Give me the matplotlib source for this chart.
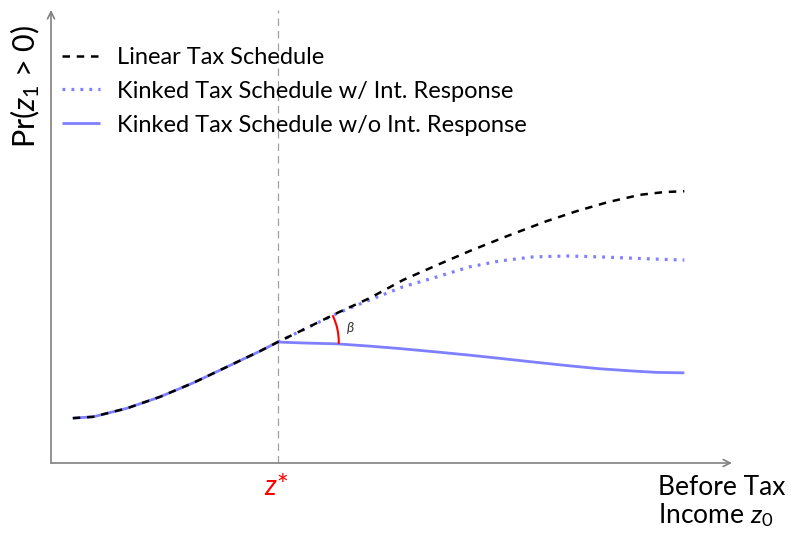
import numpy as np
import matplotlib.pyplot as plt
from matplotlib.patches import Arc
from matplotlib.transforms import ScaledTranslation

plt.rcParams['font.family'] = ['Lato', 'DejaVu Sans']
plt.rcParams['mathtext.fontset'] = 'custom'
plt.rcParams['mathtext.rm'] = 'Lato'
plt.rcParams['mathtext.it'] = 'Lato:italic'
plt.rcParams['mathtext.bf'] = 'Lato:bold'

# curva comun antes del kink (ingreso antes de impuestos, probabilidad)
x_pre = [3.2, 6.2, 11.2, 16.0, 20.9, 25.8, 30.7, 33.3]
y_pre = [9.9, 10.2, 12.1, 14.6, 17.7, 21.2, 24.7, 26.7]

# despues del kink
x_lin = [33.3, 37.0, 42.0, 46.8, 51.7, 56.7, 61.5, 67.0, 72.8, 77.2, 81.8, 86.5, 90.0, 93.0]
y_lin = [26.7, 29.4, 33.1, 36.4, 40.4, 43.7, 46.8, 50.1, 53.4, 55.6, 57.6, 59.2, 59.8, 60.0]

x_post = [33.3, 37.0, 42.0, 46.8, 51.7, 56.7, 61.5, 65.9, 70.8, 75.8, 80.6, 85.5, 89.0, 93.0]
y_kink_resp = [26.7, 29.4, 33.0, 36.0, 38.9, 41.1, 43.3, 44.6, 45.5, 45.7, 45.5, 45.2, 45.0, 44.8]
y_kink_noresp = [26.7, 26.5, 26.3, 25.8, 25.2, 24.5, 23.8, 23.1, 22.3, 21.5, 20.8, 20.3, 20.0, 19.9]

z_star = 33.3

blue = '#7f7fff'
gris = '#808080'

fig = plt.figure(figsize=(7.91, 5.40), dpi=100)
ax = fig.add_axes([51 / 791, 77 / 540, 681 / 791, 453 / 540])
ax.set_xlim(0, 100)
ax.set_ylim(0, 100)
ax.axis('off')

# ejes con flechas
for punta in [(1, 0), (0, 1)]:
    ax.annotate('', xy=punta, xytext=(0, 0), xycoords='axes fraction',
                arrowprops=dict(arrowstyle='->,head_length=0.5,head_width=0.25', color=gris,
                                lw=1.2, shrinkA=0, shrinkB=0))

# linea vertical en z*
ax.plot([z_star, z_star], [0, 100], color='#a0a0a0', lw=0.9, dashes=(6, 4), zorder=1)

ax.plot(x_pre + x_post[1:], y_pre + y_kink_noresp[1:], color=blue, lw=2.0,
        solid_capstyle='butt', zorder=2, label='Kinked Tax Schedule w/o Int. Response')
ax.plot(x_post, y_kink_resp, color=blue, lw=2.3, linestyle=(0, (0.9, 1.9)), zorder=3,
        label='Kinked Tax Schedule w/ Int. Response')
ax.plot(x_pre + x_lin[1:], y_pre + y_lin[1:], color='black', lw=1.8, dashes=(3.0, 2.7),
        zorder=4, label='Linear Tax Schedule')

# arco beta
k = ax.transData.transform((x_lin[0], y_lin[0]))
p_lin = ax.transData.transform((x_lin[2], y_lin[2]))
p_no = ax.transData.transform((x_post[2], y_kink_noresp[2]))
a_lin = np.degrees(np.arctan2(p_lin[1] - k[1], p_lin[0] - k[0]))
a_no = np.degrees(np.arctan2(p_no[1] - k[1], p_no[0] - k[0]))
tr = fig.dpi_scale_trans + ScaledTranslation(x_lin[0], y_lin[0], ax.transData)
ax.add_patch(Arc((0, 0), 1.22, 1.22, theta1=a_no, theta2=a_lin, transform=tr,
                 color='red', lw=1.5, zorder=5))
ax.text(0.73, 0.14, r'$\beta$', transform=tr, fontsize=10, color='#333333',
        ha='center', va='center')

h, l = ax.get_legend_handles_labels()
leg = ax.legend(h[::-1], l[::-1], loc='upper left', bbox_to_anchor=(62 / 791, 1 - 47 / 540),
                bbox_transform=fig.transFigure, frameon=False, fontsize=17,
                handlelength=1.6, handletextpad=0.75, labelspacing=0.54,
                borderpad=0, borderaxespad=0)

fig.text(276 / 791, 1 - 495 / 540, r'$z$*', color='red', fontsize=20,
         ha='center', va='baseline')

fig.text(25 / 791, 1 - 86 / 540, r'Pr($z_1$ > 0)', rotation=90, fontsize=22,
         ha='center', va='center')
fig.text(658 / 791, 1 - 495 / 540, 'Before Tax', fontsize=19, ha='left', va='baseline')
fig.text(658 / 791, 1 - 523 / 540, r'Income $z_0$', fontsize=19, ha='left', va='baseline')

fig.savefig('out.png', dpi=100)
